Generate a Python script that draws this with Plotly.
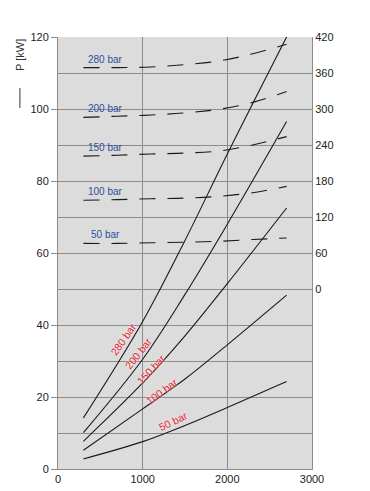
import plotly.graph_objects as go

# ---- data ----
rpm_power = [300, 1000, 1500, 2000, 2700]
power_280 = [14.2, 41.0, 63.5, 87.5, 120.0]
power_200 = [10.1, 30.5, 48.5, 68.0, 96.5]
power_150 = [7.7, 23.9, 37.0, 51.5, 72.5]
power_100 = [5.2, 16.7, 25.0, 34.5, 48.3]
power_50 = [2.8, 7.6, 12.1, 17.1, 24.3]

rpm_torque = [300, 700, 1100, 1500, 1900, 2300, 2700]
torque_280 = [369, 369, 370, 374, 380, 392, 408]
torque_200 = [286, 288, 290, 293.5, 299.5, 311, 329]
torque_150 = [221.5, 223, 225, 226.5, 230, 240, 254]
torque_100 = [148, 149, 150.5, 151.5, 154.5, 160.5, 171]
torque_50 = [76, 76, 77, 78, 79.5, 82.5, 85]

pressure_labels = ["280 bar", "200 bar", "150 bar", "100 bar", "50 bar"]
x_ticks = [0, 1000, 2000, 3000]
y_left_ticks = [0, 20, 40, 60, 80, 100, 120]
y_right_ticks = [0, 60, 120, 180, 240, 300, 360, 420]

# red label placement (rpm, kW, angle)
red_label_x = [796, 973, 1126, 1256, 1386]
red_label_y = [35.6, 31.7, 27.2, 21.0, 12.8]
red_label_angle = [-55, -52, -47, -37, -26]

powers = [power_280, power_200, power_150, power_100, power_50]
torques = [torque_280, torque_200, torque_150, torque_100, torque_50]

fig = go.Figure()
for p in powers:
    fig.add_trace(go.Scatter(x=rpm_power, y=p, mode="lines",
                             line=dict(color="#1a1a1a", width=1.1, shape="spline"),
                             showlegend=False, hoverinfo="skip"))
for t in torques:
    fig.add_trace(go.Scatter(x=rpm_torque, y=t, mode="lines", yaxis="y2",
                             line=dict(color="#1a1a1a", width=1.1, shape="spline",
                                       dash="16px,12px"),
                             showlegend=False, hoverinfo="skip"))

font_family = "Liberation Sans, Arial, sans-serif"
annotations = []
# blue labels above the dashed lines
for lab, t in zip(pressure_labels, torques):
    annotations.append(dict(x=560, y=t[0], xref="x", yref="y2", text=lab,
                            showarrow=False, yanchor="bottom", xanchor="center",
                            yshift=1,
                            font=dict(family=font_family, size=10, color="#2d4f9e")))
# red labels along the solid curves
for lab, xx, yy, ang in zip(pressure_labels, red_label_x, red_label_y, red_label_angle):
    annotations.append(dict(x=xx, y=yy, xref="x", yref="y", text=lab,
                            showarrow=False, textangle=ang, xshift=-2, yshift=2,
                            font=dict(family=font_family, size=10.5, color="#e0222a",
                                      shadow="0px 0px 2px #ffffff")))
# y title
annotations.append(dict(x=-0.15, y=115, xref="paper", yref="y", text="P [kW]",
                        showarrow=False, textangle=-90, xanchor="center",
                        yanchor="middle",
                        font=dict(family=font_family, size=11, color="#333333")))

fig.update_layout(
    width=362, height=483,
    margin=dict(l=50, r=58, t=29, b=22, autoexpand=False),
    paper_bgcolor="#ffffff",
    plot_bgcolor="#dcdcdc",
    font=dict(family=font_family, size=11, color="#222222"),
    annotations=annotations,
    shapes=[dict(type="line", xref="paper", yref="y", x0=-0.15, x1=-0.15,
                 y0=100.3, y1=105.8, line=dict(color="#333333", width=1))],
    xaxis=dict(range=[0, 3000], tickvals=x_ticks, showgrid=True,
               gridcolor="#8c8c8c", gridwidth=1, zeroline=False,
               showline=True, linecolor="#8c8c8c", linewidth=1, automargin=False,
               ticks="", ticklen=0, tickfont=dict(size=11)),
    yaxis=dict(range=[0, 120], tickvals=y_left_ticks, showgrid=True,
               gridcolor="#8c8c8c", gridwidth=1, zeroline=False, automargin=False,
               minor=dict(dtick=10, showgrid=True, gridcolor="#8c8c8c", gridwidth=1),
               showline=True, linecolor="#8c8c8c", linewidth=1,
               ticks="outside", ticklen=6, tickcolor="#8c8c8c",
               tickfont=dict(size=11)),
    yaxis2=dict(range=[-300, 420], tickvals=y_right_ticks, overlaying="y",
                side="right", showgrid=False, zeroline=False, automargin=False,
                showline=True, linecolor="#8c8c8c", linewidth=1,
                ticks="", tickfont=dict(size=11)),
)

fig.write_html("out.html")
